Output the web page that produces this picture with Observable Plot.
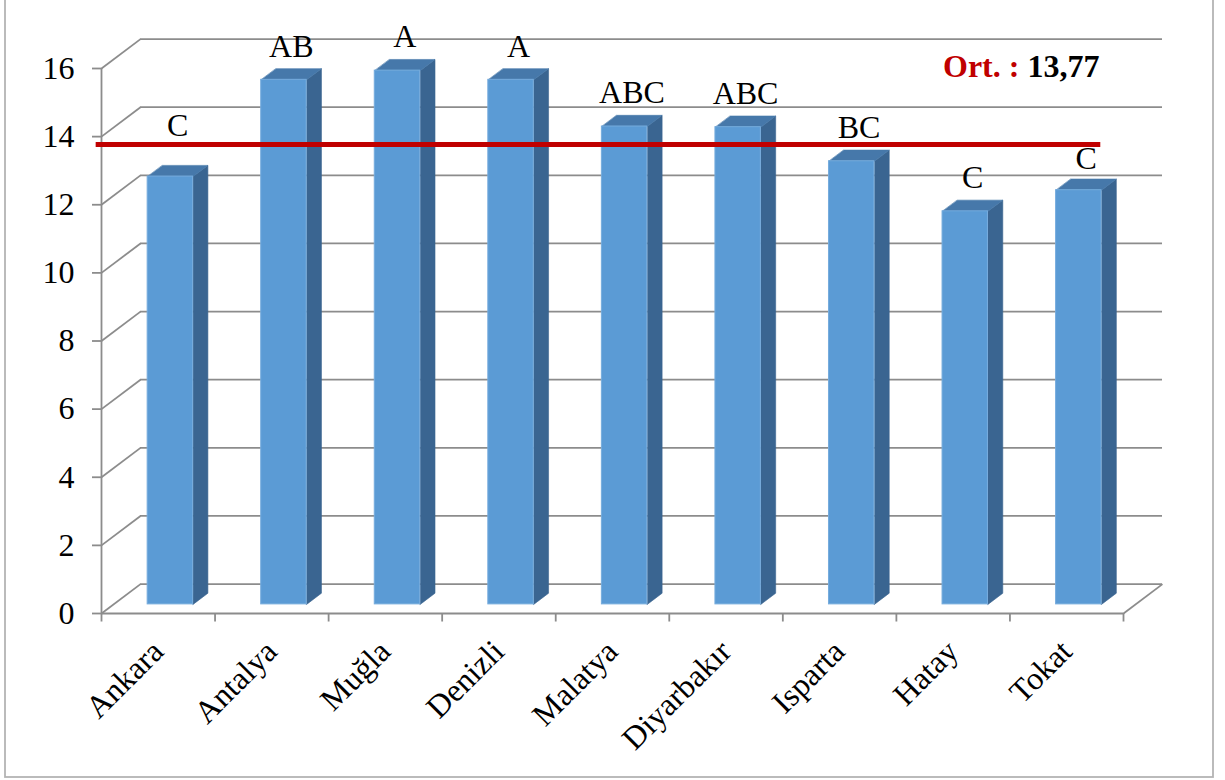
<!DOCTYPE html>
<html>
<head>
<meta charset="utf-8">
<script src="https://cdn.jsdelivr.net/npm/d3@7"></script>
<script src="https://cdn.jsdelivr.net/npm/@observablehq/plot@0.6"></script>
<style>
  html, body { margin: 0; padding: 0; background: #ffffff; }
  #chart { position: relative; width: 1225px; height: 780px; overflow: hidden; }
  #chart svg text { font-family: "Liberation Serif"; }
</style>
</head>
<body>
<div id="chart"></div>
<script>
// ---- data ----
const categories = ["Ankara", "Antalya", "Muğla", "Denizli", "Malatya", "Diyarbakır", "Isparta", "Hatay", "Tokat"];
const values = [12.56, 15.40, 15.67, 15.40, 14.03, 14.01, 13.01, 11.54, 12.16];
const groups = ["C", "AB", "A", "A", "ABC", "ABC", "BC", "C", "C"];
const yTicks = [0, 2, 4, 6, 8, 10, 12, 14, 16];
const average = 13.77;
const averageLabel = "Ort. :";

// ---- 3D geometry (oblique projection in data units) ----
const K = 34.06;          // px per value unit
const DX = 39 / 113.56;   // depth offset along x (category units)
const DY = 29.4 / K;      // depth offset along y (value units)
const d1 = 0.31, d2 = 0.69; // bar front/back depth fractions
const hw = 0.2;             // bar half width (category units)
const gridColor = "#8c8c8c";
const serif = "Liberation Serif";
const FS = 32;

const idx = categories.map((_, i) => i);
const bounds = d3.range(categories.length + 1).map(i => i - 0.5);

const sidePts = [], topPts = [];
idx.forEach(i => {
  const v = values[i];
  const xr1 = i + hw + d1 * DX, xr2 = i + hw + d2 * DX;
  const xl1 = i - hw + d1 * DX, xl2 = i - hw + d2 * DX;
  sidePts.push({id: i, x: xr1, y: d1 * DY}, {id: i, x: xr2, y: d2 * DY},
               {id: i, x: xr2, y: v + d2 * DY}, {id: i, x: xr1, y: v + d1 * DY});
  topPts.push({id: i, x: xl1, y: v + d1 * DY}, {id: i, x: xr1, y: v + d1 * DY},
              {id: i, x: xr2, y: v + d2 * DY}, {id: i, x: xl2, y: v + d2 * DY});
});

// label baselines: just above bar back-top; moved clear of the average line if they collide
const labelBase = idx.map(i => {
  const top = values[i] + d2 * DY;
  const b = top + 12 / K;
  if (b < average + 3 / K && b + 22 / K > average - 3 / K) {
    const bA = average + 8 / K;
    const bB = average - 25 / K;
    if (bB >= top + 5 / K && Math.abs(bB - b) < Math.abs(bA - b)) return bB;
    return bA;
  }
  return b;
});

const svg = Plot.plot({
  width: 1225,
  height: 780,
  marginLeft: 101,
  marginRight: 102,
  marginTop: 68,
  marginBottom: 167,
  x: {domain: [-0.5, categories.length - 0.5], axis: null},
  y: {domain: [0, 16]},
  style: {fontFamily: serif, fontSize: FS + "px", background: "#ffffff", overflow: "visible", color: "#000"},
  marks: [
    // back wall gridlines
    Plot.ruleY(yTicks, {y: d => d + DY, x1: -0.5 + DX, x2: categories.length - 0.5 + DX, stroke: gridColor, strokeWidth: 1.8}),
    // side wall slants
    Plot.link(yTicks, {x1: -0.5, y1: d => d, x2: -0.5 + DX, y2: d => d + DY, stroke: gridColor, strokeWidth: 1.8}),
    // floor right edge
    Plot.link([0], {x1: categories.length - 0.5, y1: 0, x2: categories.length - 0.5 + DX, y2: DY, stroke: gridColor, strokeWidth: 1.8}),
    // floor front edge
    Plot.ruleY([0], {x1: -0.5, x2: categories.length - 0.5, stroke: gridColor, strokeWidth: 1.8}),
    // vertical axis line
    Plot.ruleX([-0.5], {y1: 0, y2: 16, stroke: gridColor, strokeWidth: 1.8}),
    // category boundary ticks
    Plot.ruleX(bounds, {x: d => d, y1: 0, y2: -0.25, stroke: gridColor, strokeWidth: 1.8}),
    // y axis ticks & labels
    Plot.axisY(yTicks, {anchor: "left", label: null, tickSize: 9, tickPadding: 18, stroke: gridColor, strokeWidth: 1.8, fill: "#000", fontSize: FS, fontFamily: serif, tickFormat: d => String(d)}),
    // bars: side, top, front
    Plot.line(sidePts, {x: "x", y: "y", z: "id", curve: "linear-closed", fill: "#3A6591", stroke: "#3A6591", strokeWidth: 0.6}),
    Plot.line(topPts, {x: "x", y: "y", z: "id", curve: "linear-closed", fill: "#4678AA", stroke: "#4678AA", strokeWidth: 0.6}),
    Plot.rect(idx, {x1: i => i - hw + d1 * DX, x2: i => i + hw + d1 * DX, y1: d1 * DY, y2: i => values[i] + d1 * DY,
                    fill: "#5B9BD5", stroke: "#76ACDD", strokeWidth: 1}),
    // average line
    Plot.ruleY([average], {x1: -0.547, x2: 8.30, stroke: "#C00000", strokeWidth: 5}),
    // group letters
    Plot.text(idx, {x: i => i + 0.5 * DX, y: i => labelBase[i], text: i => groups[i], lineAnchor: "bottom", fontSize: FS, fontFamily: serif, fill: "#000"}),
    // category labels
    Plot.text(idx, {x: i => i, y: 0, text: i => categories[i], rotate: -45, textAnchor: "end", lineAnchor: "bottom", dx: 7, dy: 40, fontSize: FS, fontFamily: serif, fill: "#000"}),
    // average annotation
    Plot.text([averageLabel], {x: 7.61, y: 15.74, text: d => d, textAnchor: "end", lineAnchor: "bottom", dx: -3, fontSize: FS, fontFamily: serif, fontWeight: "bold", fill: "#C00000"}),
    Plot.text([average], {x: 7.61, y: 15.74, text: d => d.toFixed(2).replace(".", ","), textAnchor: "start", lineAnchor: "bottom", dx: 5, fontSize: FS, fontFamily: serif, fontWeight: "bold", fill: "#000"})
  ]
});

// outer chart border
d3.select(svg).append("rect")
  .attr("x", 5).attr("y", -3).attr("width", 1208).attr("height", 780)
  .attr("fill", "none").attr("stroke", "#b4b4b4").attr("stroke-width", 1.8);

document.getElementById("chart").appendChild(svg);
</script>
</body>
</html>
